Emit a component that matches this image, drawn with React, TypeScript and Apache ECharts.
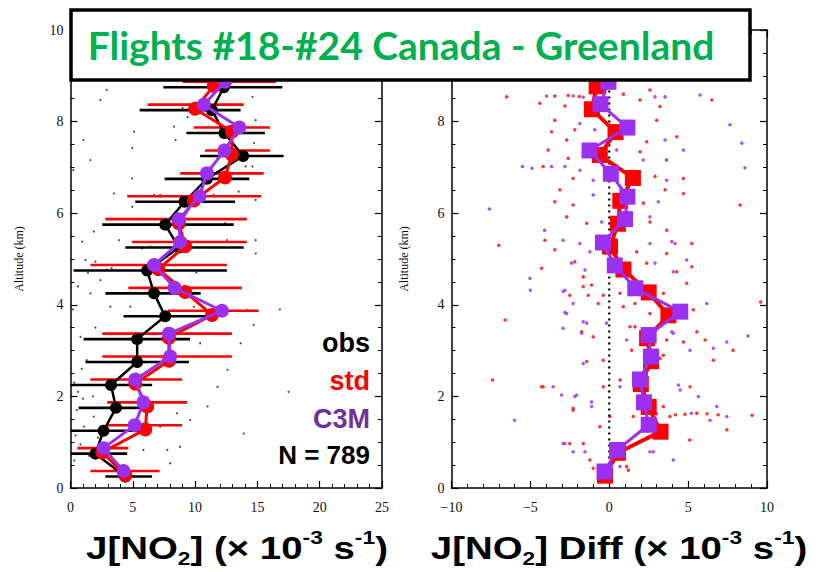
import React, { useEffect, useRef } from "react";
import * as echarts from "echarts";

// ---------- DATA ----------
// Altitude bins (km)
const altObs = [0.25, 0.75, 1.25, 1.75, 2.25, 2.75, 3.25, 3.75, 4.25, 4.75, 5.25, 5.75, 6.25, 6.75, 7.25, 7.75, 8.25, 8.75, 9.25];
const altStd = [0.28, 0.78, 1.28, 1.78, 2.28, 2.78, 3.28, 3.78, 4.28, 4.78, 5.28, 5.78, 6.28, 6.78, 7.28, 7.78, 8.28, 8.78, 9.28];
const altStdBar = [0.37, 0.87, 1.37, 1.87, 2.37, 2.87, 3.37, 3.87, 4.37, 4.87, 5.37, 5.87, 6.37, 6.87, 7.37, 7.87, 8.37, 8.87, 9.37];
const altC3M = [0.37, 0.87, 1.37, 1.87, 2.37, 2.87, 3.37, 3.87, 4.37, 4.87, 5.37, 5.87, 6.37, 6.87, 7.37, 7.87, 8.37, 8.87, 9.37];

// J[NO2] (x 1e-3 s-1)
const obsMean = [4.4, 2.0, 2.65, 3.65, 3.25, 5.35, 5.35, 7.6, 6.7, 6.15, 8.7, 7.6, 9.15, 10.95, 13.85, 12.35, 11.35, 12.3, 12.0];
const obsLo = [2.8, 0, 0, 0.65, 0, 1.2, 1.05, 4.25, 2.8, 0.25, 4.4, 2.55, 5.2, 7.55, 10.4, 9.3, 5.55, 7.45, 7.0];
const obsHi = [6.55, 4.55, 5.55, 6.7, 6.55, 9.5, 9.6, 11.5, 10.45, 12.55, 13.9, 13.1, 13.2, 14.35, 17.1, 15.6, 13.65, 17.0, 17.0];

const stdMean = [4.4, 2.55, 6.0, 6.15, 5.2, 7.9, 7.9, 11.35, 9.2, 7.05, 9.2, 8.7, 9.9, 12.4, 12.95, 12.95, 10.0, 11.5, 11.0];
const stdLo = [1.6, 0.55, 2.95, 2.95, 1.6, 2.55, 2.55, 7.8, 4.65, 1.6, 4.95, 2.8, 4.55, 8.8, 10.8, 9.9, 6.2, 9.0, 7.0];
const stdHi = [7.15, 4.65, 8.95, 9.35, 8.95, 12.95, 12.95, 15.1, 13.75, 12.55, 14.15, 14.15, 15.3, 15.5, 16.0, 16.0, 13.9, 16.5, 16.0];

const c3mMean = [4.25, 2.65, 5.15, 5.85, 5.2, 8.0, 7.9, 12.15, 8.35, 6.7, 8.8, 8.7, 10.35, 10.95, 12.35, 13.55, 10.7, 12.4, 12.0];

// Differences (model - obs)
const altDiffStd = [0.27, 0.77, 1.23, 1.77, 2.27, 2.77, 3.27, 3.77, 4.27, 4.77, 5.27, 5.77, 6.27, 6.77, 7.27, 7.77, 8.27, 8.77, 9.27];
const altDiffC3M = [0.36, 0.83, 1.38, 1.87, 2.37, 2.87, 3.34, 3.85, 4.36, 4.86, 5.36, 5.87, 6.36, 6.86, 7.37, 7.87, 8.38, 8.87, 9.37];
const diffStd = [-0.27, 0.55, 3.25, 2.5, 2.0, 2.65, 2.4, 3.75, 2.5, 0.9, 0.05, 0.55, 0.7, 1.5, -0.6, 0.4, -1.1, -0.8, -0.8];
const diffC3M = [-0.3, 0.5, 2.5, 2.2, 1.95, 2.65, 2.5, 4.5, 1.65, 0.35, -0.4, 1.0, 1.15, 0.1, -1.25, 1.15, -0.55, -0.05, 0.0];
const zeroLine = [[0, 0.25], [0, 8.8]];

// Individual samples (x, altitude)
const obsSamples = [
  [2.4, 8.47], [1.03, 7.6], [5.1, 7.78], [2.9, 8.69], [1.6, 7.16], [4.95, 7.42], [4.95, 6.76], [4.95, 6.14], [1.87, 5.6],
  [0.94, 5.38], [3.88, 5.41], [5.76, 5.23], [0.23, 6.94], [8.3, 7.89], [8.43, 7.6], [14.6, 8.54], [14.86, 8.03], [14.72, 7.53],
  [14.05, 7.02], [14.6, 7.02], [14.86, 6.29], [14.86, 5.41], [14.86, 5.12], [11.5, 6.4], [12.4, 5.78], [12.55, 5.41], [13.5, 6.47],
  [6.4, 5.27], [3.48, 6.43], [6.7, 6.4], [7.2, 6.4], [1.2, 4.98], [2.0, 4.94], [2.4, 4.54], [1.6, 4.25], [3.2, 3.96], [4.8, 3.96],
  [9.9, 3.96], [14.2, 3.89], [14.7, 3.56], [13.65, 3.16], [12.6, 2.58], [11.8, 2.21], [11.0, 1.78], [9.6, 1.48], [8.8, 0.9],
  [7.77, 0.83], [8.0, 0.54], [1.3, 2.79], [0.8, 3.3], [0.5, 1.7], [1.07, 1.34], [1.87, 1.56], [10.4, 3.16], [10.15, 2.87],
  [7.2, 1.34], [8.55, 1.63], [5.85, 0.83], [10.65, 3.67], [13.9, 1.19], [0.3, 2.3], [0.6, 2.1], [1.0, 1.95], [0.4, 1.15],
  [0.8, 0.95], [1.5, 0.7], [0.3, 0.6], [2.2, 1.1], [1.8, 2.0], [0.9, 2.6], [0.2, 3.9], [0.6, 4.4], [2.0, 3.5], [1.4, 4.7],
  [3.3, 4.8], [3.6, 4.76], [2.9, 4.77], [9.0, 8.3], [9.4, 8.1], [10.1, 4.7], [16.8, 3.9], [17.5, 2.1]
];

const stdDiffSamples = [
  [-3.45, 8.56], [-2.81, 8.34], [-3.45, 8.03], [-3.66, 7.78], [-2.18, 7.82], [-2.7, 7.6], [-3.87, 7.38], [-2.6, 7.2], [-4.19, 7.02],
  [-2.29, 6.76], [-3.13, 6.51], [-3.45, 6.25], [-2.29, 6.18], [-2.7, 5.92], [-1.43, 5.78], [-4.08, 5.41], [-3.45, 5.2], [-2.18, 4.94],
  [-1.65, 4.61], [2.58, 8.69], [1.95, 8.47], [3.22, 8.33], [3.01, 8.03], [4.28, 7.67], [2.37, 7.56], [1.95, 7.34], [3.64, 7.16],
  [2.9, 6.8], [4.7, 6.76], [3.54, 6.51], [4.7, 6.43], [2.16, 6.22], [2.58, 5.81], [3.64, 5.63], [5.23, 5.34], [1.74, 5.16],
  [3.64, 5.12], [2.37, 4.91], [4.28, 4.72], [5.23, 4.83], [-1.65, 4.4], [-0.38, 4.21], [0.89, 3.96], [2.58, 3.81], [1.63, 3.52],
  [-1.02, 3.3], [4.7, 3.19], [5.55, 3.41], [1.42, 3.01], [3.43, 2.9], [-0.38, 2.79], [-4.19, 2.21], [0.68, 2.36], [5.12, 2.21],
  [-2.29, 1.74], [1.52, 1.56], [3.85, 1.56], [-0.59, 1.34], [-1.65, 0.97], [1.21, 0.39], [-1.02, 0.43], [5.55, 1.63], [7.45, 1.27],
  [-1.12, 4.43], [8.3, 6.18], [9.6, 4.06], [6.5, 8.47], [-6.5, 8.54], [-7.0, 5.3], [-4.4, 8.4], [-6.6, 3.67], [-7.4, 2.36],
  [7.85, 3.01], [9.05, 1.59], [5.1, 1.05], [-1.9, 8.55], [-2.6, 8.57], [0.9, 8.6],
  [-4.29, 4.8], [-2.5, 4.21], [-1.33, 4.21], [-0.7, 4.03], [0.68, 4.25], [1.63, 4.03], [3.43, 4.25], [4.91, 4.47], [5.33, 3.89],
  [-1.75, 3.41], [1.31, 3.52], [3.64, 3.23], [6.08, 3.23], [-1.43, 2.76], [3.22, 2.83], [6.6, 2.79], [-4.29, 2.21], [-0.38, 2.21],
  [-2.29, 1.7], [3.43, 1.78], [0.04, 1.56], [-2.5, 0.97], [1.1, 0.47], [-1.23, 0.61], [4.2, 1.6], [4.8, 1.61], [6.2, 1.62], [6.9, 1.6]
];

const c3mDiffSamples = [
  [-3.97, 8.56], [-2.29, 8.56], [-1.65, 8.53], [3.54, 8.54], [2.9, 8.54], [-1.86, 7.96], [-0.17, 7.96], [-0.91, 7.82], [0.25, 7.64],
  [3.54, 7.6], [4.7, 7.38], [-3.66, 7.02], [-2.81, 7.02], [-1.86, 6.94], [-1.02, 6.72], [0.47, 7.38], [2.16, 7.16], [3.64, 6.72],
  [3.11, 6.25], [2.58, 5.92], [-1.02, 6.4], [-0.48, 5.81], [-1.86, 5.34], [-2.92, 5.41], [-1.23, 5.16], [3.96, 5.38], [2.58, 5.34],
  [4.17, 5.34], [-2.39, 4.91], [4.91, 4.98], [2.9, 4.91], [4.06, 4.72], [-1.54, 4.76], [-2.81, 4.32], [-2.29, 4.03], [-2.81, 3.83],
  [-1.65, 3.63], [-0.17, 3.6], [-2.92, 3.49], [-1.75, 3.38], [1.1, 3.23], [4.06, 3.38], [7.45, 3.19], [5.12, 3.01], [-1.65, 2.72],
  [-3.56, 2.21], [-2.18, 2.0], [-1.12, 1.78], [0.68, 2.21], [4.49, 2.14], [5.65, 2.0], [2.58, 1.27], [-2.81, 0.97], [-1.54, 0.79],
  [4.06, 0.61], [2.79, 0.79], [6.39, 1.48], [7.45, 1.56], [8.4, 7.53], [8.6, 6.99], [5.76, 8.58], [7.65, 7.93], [-7.6, 6.09],
  [-5.0, 4.32], [-6.0, 1.48], [-4.1, 5.63], [8.8, 3.32], [-4.9, 6.98], [-5.5, 7.02],
  [-5.03, 4.58], [-2.92, 4.29], [6.18, 4.03], [-2.7, 3.81], [-1.43, 3.6], [3.96, 3.41], [6.6, 3.05], [-3.02, 2.03], [-2.07, 2.03],
  [-1.12, 1.88], [4.38, 2.25], [6.82, 1.78], [-2.92, 0.97], [-2.29, 0.79], [2.58, 0.79], [0.68, 0.47], [3.0, 1.62], [5.2, 1.63]
];

// Tick settings
const leftXTicks = { min: 0, max: 25, interval: 5 };
const rightXTicks = { min: -10, max: 10, interval: 5 };
const altTicks = { min: 0, max: 10, interval: 2 };

// ---------- CHART ----------
const zip = (xs: number[], ys: number[]) => xs.map((x, i) => [x, ys[i]]);
const zip3 = (a: number[], b: number[], c: number[]) => a.map((v, i) => [v, b[i], c[i]]);

const SERIF = "'Liberation Serif', 'DejaVu Serif', serif";
const SANS = "'Liberation Sans', Arial, sans-serif";
const RED = "#FF0000";
const PURPLE = "#9B30F0";

function xAxisDef(grid: number, t: any, top: boolean, minor: number) {
  return {
    type: "value",
    gridIndex: grid,
    position: top ? "top" : "bottom",
    min: t.min,
    max: t.max,
    interval: t.interval,
    axisLine: { show: true, onZero: false, lineStyle: { color: "#000", width: 1.5 } },
    axisTick: { show: true, inside: true, length: 7, lineStyle: { color: "#000", width: 1.2 } },
    minorTick: { show: true, splitNumber: minor, length: 4, lineStyle: { color: "#000", width: 1 } },
    splitLine: { show: false },
    axisLabel: {
      show: !top,
      margin: 12,
      fontFamily: SERIF,
      fontSize: 14,
      color: "#111",
      formatter: (v: number) => String(v).replace("-", "\u2212"),
    },
  };
}

function yAxisDef(grid: number, right: boolean, nameGap: number, hideTop: boolean) {
  return {
    type: "value",
    gridIndex: grid,
    position: right ? "right" : "left",
    min: altTicks.min,
    max: altTicks.max,
    interval: altTicks.interval,
    name: right ? "" : "Altitude (km)",
    nameLocation: "middle",
    nameGap,
    nameRotate: 90,
    nameTextStyle: { fontFamily: SERIF, fontSize: 12, color: "#111" },
    axisLine: { show: true, onZero: false, lineStyle: { color: "#000", width: 1.5 } },
    axisTick: { show: true, inside: true, length: 7, lineStyle: { color: "#000", width: 1.2 } },
    minorTick: { show: true, splitNumber: 4, length: 4, lineStyle: { color: "#000", width: 1 } },
    splitLine: { show: false },
    axisLabel: {
      show: !right,
      margin: 7,
      fontFamily: SERIF,
      fontSize: 14,
      color: "#111",
      // the top label of the right panel sits behind the title box
      formatter: (v: number) => (hideTop && v === altTicks.max ? "" : String(v)),
    },
  };
}

function errorBars(data: number[][], color: string, xi: number, yi: number, z: number) {
  return {
    type: "custom",
    xAxisIndex: xi,
    yAxisIndex: yi,
    z,
    clip: true,
    data,
    encode: { x: [0, 1], y: 2 },
    renderItem: (params: any, api: any) => {
      const a = api.coord([api.value(0), api.value(2)]);
      const b = api.coord([api.value(1), api.value(2)]);
      return {
        type: "line",
        shape: { x1: a[0], y1: a[1], x2: b[0], y2: b[1] },
        style: { stroke: color, lineWidth: 2.6 },
      };
    },
  };
}

function profile(data: number[][], color: string, xi: number, yi: number, symbol: string, size: number, width: number, z: number) {
  return {
    type: "line",
    xAxisIndex: xi,
    yAxisIndex: yi,
    data,
    z,
    clip: true,
    symbol,
    symbolSize: size,
    showSymbol: true,
    lineStyle: { color, width },
    itemStyle: { color, borderWidth: 0 },
  };
}

function dots(data: number[][], color: string, xi: number, yi: number, size: number) {
  return {
    type: "scatter",
    xAxisIndex: xi,
    yAxisIndex: yi,
    data,
    z: 1,
    symbolSize: size,
    itemStyle: { color, opacity: 0.9 },
  };
}

export default function App() {
  const ref = useRef<HTMLDivElement>(null);
  useEffect(() => {
    if (!ref.current) return;
    const chart = echarts.init(ref.current, undefined, { renderer: "svg" });
    const rich = {
      a: { fontFamily: SANS, fontWeight: "bold", fontSize: 32, lineHeight: 40, color: "#000" },
      s: { fontFamily: SANS, fontWeight: "bold", fontSize: 19, lineHeight: 19, verticalAlign: "bottom", color: "#000" },
      p: { fontFamily: SANS, fontWeight: "bold", fontSize: 19, lineHeight: 19, verticalAlign: "top", color: "#000" },
    };
    const option: any = {
      animation: false,
      grid: [
        { left: 70.5, top: 30, width: 311.5, height: 458 },
        { left: 451.5, top: 30, width: 315.5, height: 458 },
      ],
      xAxis: [
        xAxisDef(0, leftXTicks, false, 5),
        xAxisDef(0, leftXTicks, true, 5),
        xAxisDef(1, rightXTicks, false, 5),
        xAxisDef(1, rightXTicks, true, 5),
      ],
      yAxis: [
        yAxisDef(0, false, 46, false),
        yAxisDef(0, true, 0, false),
        yAxisDef(1, false, 42, true),
        yAxisDef(1, true, 0, false),
      ],
      series: [
        dots(obsSamples, "#333", 0, 0, 2),
        errorBars(zip3(obsLo, obsHi, altObs), "#000", 0, 0, 3),
        errorBars(zip3(stdLo, stdHi, altStdBar), RED, 0, 0, 4),
        profile(zip(obsMean, altObs), "#000", 0, 0, "circle", 12, 2.5, 5),
        profile(zip(stdMean, altStd), RED, 0, 0, "circle", 14, 3, 6),
        profile(zip(c3mMean, altC3M), PURPLE, 0, 0, "circle", 14, 3, 7),

        dots(stdDiffSamples, "#FF2020", 2, 2, 3.5),
        dots(c3mDiffSamples, "#A040FF", 2, 2, 3.5),
        {
          type: "line",
          xAxisIndex: 2,
          yAxisIndex: 2,
          data: zeroLine,
          z: 3,
          symbol: "none",
          lineStyle: { color: "#000", width: 2.2, type: [2, 4] },
        },
        profile(zip(diffStd, altDiffStd), RED, 2, 2, "rect", 16, 4, 5),
        profile(zip(diffC3M, altDiffC3M), PURPLE, 2, 2, "rect", 16, 3, 6),
      ],
      graphic: [
        {
          type: "rect",
          z: 100,
          shape: { x: 71, y: 10, width: 679, height: 70 },
          style: { fill: "#fff", stroke: "#000", lineWidth: 3.5 },
        },
        {
          type: "text",
          z: 101,
          x: 401,
          y: 45,
          style: {
            text: "Flights #18-#24 Canada - Greenland",
            fill: "#00B050",
            font: "bold 39px Lato, 'Noto Sans', sans-serif",
            align: "center",
            verticalAlign: "middle",
          },
        },
        { type: "text", z: 101, x: 370, y: 343, style: { text: "obs", fill: "#000", font: `bold 27px ${SANS}`, align: "right", verticalAlign: "middle" } },
        { type: "text", z: 101, x: 370, y: 381, style: { text: "std", fill: RED, font: `bold 27px ${SANS}`, align: "right", verticalAlign: "middle" } },
        { type: "text", z: 101, x: 370, y: 419, style: { text: "C3M", fill: "#7030A0", font: `bold 27px ${SANS}`, align: "right", verticalAlign: "middle" } },
        { type: "text", z: 101, x: 370, y: 455, style: { text: "N = 789", fill: "#000", font: `bold 26px ${SANS}`, align: "right", verticalAlign: "middle" } },
        {
          type: "text",
          z: 101,
          x: 237,
          y: 548,
          scaleX: 1.2,
          style: {
            text: "{a|J[NO}{s|2}{a|] (× 10}{p|-3}{a| s}{p|-1}{a|)}",
            rich,
            align: "center",
            verticalAlign: "middle",
          },
        },
        {
          type: "text",
          z: 101,
          x: 619,
          y: 548,
          scaleX: 1.2,
          style: {
            text: "{a|J[NO}{s|2}{a|] Diff (× 10}{p|-3}{a| s}{p|-1}{a|)}",
            rich,
            align: "center",
            verticalAlign: "middle",
          },
        },
      ],
    };
    chart.setOption(option);
    return () => chart.dispose();
  }, []);
  return <div ref={ref} style={{ position: "fixed", left: 0, top: 0, width: 816, height: 572, background: "#fff" }} />;
}
